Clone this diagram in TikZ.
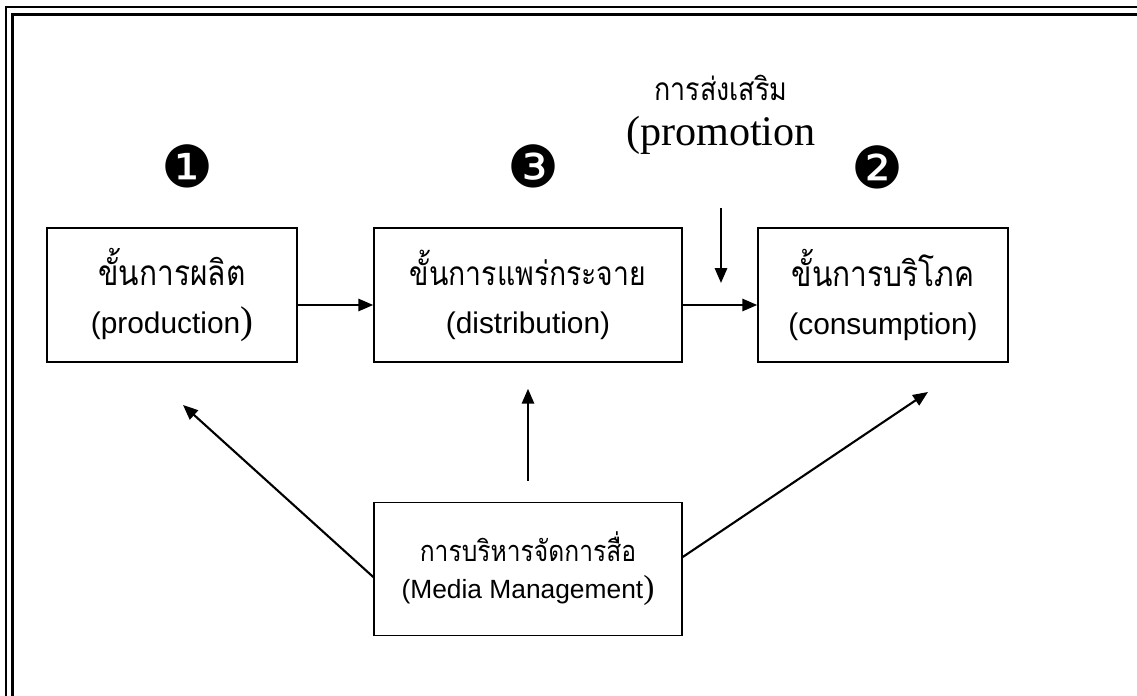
\documentclass[tikz,border=0pt]{standalone}
\usepackage{fontspec}
\setmainfont{Liberation Sans}
\newfontfamily\thaifont[Script=Thai,FakeStretch=0.85]{Loma}
\newfontfamily\romanfont{Liberation Serif}
\newfontfamily\dingfont{DejaVu Sans}
\usetikzlibrary{arrows.meta}

\newcommand{\bigparen}{{\romanfont\fontsize{22}{28}\selectfont )}}
\newcommand{\smallparen}{{\romanfont\fontsize{19}{21}\selectfont )}}

\begin{document}
\begin{tikzpicture}
  [x=0.02cm,y=-0.02cm,
   box/.style={draw,line width=0.9pt,align=center,inner sep=0pt,
               minimum height=2.68cm,font=\fontsize{17}{27}\selectfont},
   num/.style={font=\dingfont\fontsize{33}{33}\selectfont,inner sep=0pt},
   arr/.style={line width=1.2pt,-{Triangle[length=8.5pt,width=7pt]}}
  ]
  \useasboundingbox (0,0) rectangle (1137,696);

  % frame
  \draw[line width=1.1pt] (6,720) |- (1160,7);
  \draw[line width=1.7pt] (12.5,720) |- (1160,14.5);

  % stages
  \node[box,minimum width=5cm] (prod) at (172,295)
    {{\thaifont\fontsize{20}{27}\selectfont ขั้นการผลิต}\\(production\bigparen};
  \node[box,minimum width=6.16cm] (dist) at (528,295)
    {{\thaifont\fontsize{19}{27}\selectfont ขั้นการแพร่กระจาย}\\(distribution)};
  \node[box,minimum width=5cm] (cons) at (883,295)
    {{\thaifont\fontsize{20}{27}\selectfont ขั้นการบริโภค}\\(consumption)};
  \node[box,minimum width=6.16cm,minimum height=2.66cm,
        font=\fontsize{15}{21}\selectfont] (media) at (528,569)
    {{\thaifont\fontsize{16.5}{21}\selectfont การบริหารจัดการสื่อ}\\(Media Management\smallparen};

  % numbers
  \node[num] (n1) at (187,166) {❶};
  \node[num] (n3) at (533,166) {❸};
  \node[num] (n2) at (877,167) {❷};

  % promotion
  \node[font=\thaifont\fontsize{18}{18}\selectfont] (promth) at (721,88) {การส่งเสริม};
  \node[font=\romanfont\fontsize{24}{24}\selectfont] (promen) at (721,135) {(promotion};
  \coordinate (ptop) at (721,208);
  \coordinate (pbot) at (721,283);

  %connections
  \draw[arr] ([yshift=-0.2cm]prod.east) -- ([yshift=-0.2cm]dist.west);
  \draw[arr] ([yshift=-0.2cm]dist.east) -- ([yshift=-0.2cm]cons.west);
  \draw[arr] (ptop) -- (pbot);
  \draw[arr,shorten <=0.42cm,shorten >=0.52cm] (media.north) -- (dist.south);
  \coordinate (ltip) at (183,405);
  \coordinate (rtip) at (928,392);
  \draw[arr] ([yshift=-0.16cm]media.west) -- (ltip);
  \draw[arr] ([yshift=0.24cm]media.east) -- (rtip);
\end{tikzpicture}
\end{document}
